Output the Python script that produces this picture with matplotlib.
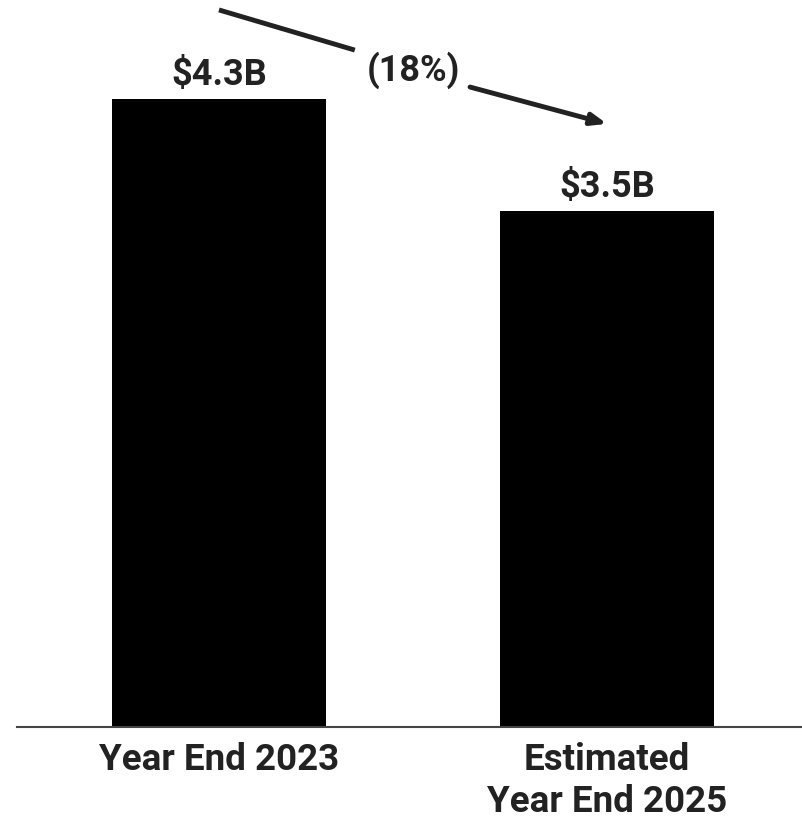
import matplotlib.pyplot as plt

# data
categories = ["Year End 2023", "Estimated\nYear End 2025"]
values = [4.3, 3.53]
value_labels = ["$4.3B", "$3.5B"]
change_label = "(18%)"

plt.rcParams['font.family'] = ['Roboto', 'DejaVu Sans']
txt = '#222222'

fig = plt.figure(figsize=(8.02, 8.23), dpi=100)
ax = fig.add_axes([17 / 802, 96 / 823, 785 / 802, 727 / 823])

x = range(len(values))
ax.bar(x, values, width=0.5515, color='black')

ax.set_xlim(-0.5206, 1.5026)
ax.set_ylim(0, 4.978)

for xi, v, lab in zip(x, values, value_labels):
    ax.text(xi, v + 0.096, lab, ha='center', va='baseline', fontsize=26,
            fontweight='bold', color=txt)

for xi, c in zip(x, categories):
    ax.text(xi, -0.105, c, ha='center', va='top', fontsize=26.5,
            fontweight='bold', color=txt, linespacing=1.22)

# change annotation
ax.text(0.5, 4.50, change_label, ha='center', va='center', fontsize=26,
        fontweight='bold', color=txt)
ax.plot([0, 0.35], [4.91, 4.635], color=txt, lw=3.5, solid_capstyle='butt')
ax.annotate('', xy=(1.0, 4.13), xytext=(0.647, 4.382),
            arrowprops=dict(arrowstyle='-|>,head_length=0.9,head_width=0.35',
                            color=txt, lw=3.5, shrinkA=0, shrinkB=0))

for s in ['top', 'right', 'left']:
    ax.spines[s].set_visible(False)
ax.spines['bottom'].set_color('#444444')
ax.spines['bottom'].set_linewidth(1.5)
ax.set_xticks([])
ax.set_yticks([])

fig.savefig('out.png', dpi=100)
